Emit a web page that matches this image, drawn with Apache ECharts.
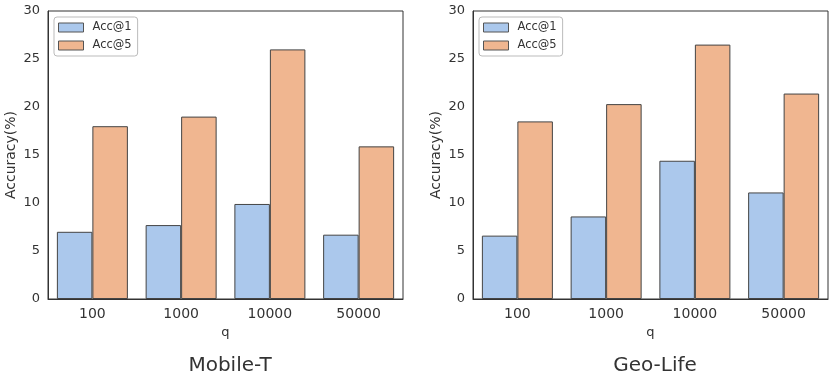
<!DOCTYPE html>
<html>
<head>
<meta charset="utf-8">
<script src="https://cdn.jsdelivr.net/npm/echarts@6/dist/echarts.min.js"></script>
<style>
  html, body { margin: 0; padding: 0; background: #fff; }
  #chart { width: 830px; height: 389px; }
</style>
</head>
<body>
<div id="chart"></div>
<script>
// categories (q) and accuracy values
const qValues = ["100", "1000", "10000", "50000"];
const mobileAcc1 = [7.0, 7.7, 9.9, 6.7];
const mobileAcc5 = [18.0, 19.0, 26.0, 15.9];
const geoAcc1 = [6.6, 8.6, 14.4, 11.1];
const geoAcc5 = [18.5, 20.3, 26.5, 21.4];
const yTicks = [0, 5, 10, 15, 20, 25, 30];
const panelTitles = ["Mobile-T", "Geo-Life"];

const font = "DejaVu Sans";
const blue = "#abc8ec";
const orange = "#f0b690";

let myChart = echarts.init(document.getElementById("chart"), null, { renderer: "canvas" });

// 每个子图的坐标轴
function makeX(idx) {
  return {
    type: "category",
    gridIndex: idx,
    data: qValues,
    name: "q",
    nameLocation: "middle",
    nameGap: 27,
    nameTextStyle: { fontFamily: font, fontSize: 13, color: "#333" },
    axisLine: { show: true, lineStyle: { color: "#333", width: 1 } },
    axisTick: { show: false },
    axisLabel: { fontFamily: font, fontSize: 14, color: "#333", margin: 8 },
    splitLine: { show: false },
  };
}
function makeY(idx) {
  return {
    type: "value",
    gridIndex: idx,
    min: yTicks[0],
    max: yTicks[yTicks.length - 1],
    interval: 5,
    name: "Accuracy(%)",
    nameLocation: "middle",
    nameGap: 30,
    nameTextStyle: { fontFamily: font, fontSize: 14, color: "#333" },
    axisLine: { show: true, lineStyle: { color: "#333", width: 1 } },
    axisTick: { show: false },
    axisLabel: { fontFamily: font, fontSize: 13, color: "#333", margin: 8 },
    splitLine: { show: false },
  };
}
function makeBar(name, data, color, idx) {
  return {
    type: "bar",
    name: name,
    data: data,
    xAxisIndex: idx,
    yAxisIndex: idx,
    barGap: "0%",
    barCategoryGap: "20%",
    itemStyle: { color: color, borderColor: "#444", borderWidth: 1 },
  };
}
function makeLegend(left) {
  return {
    data: ["Acc@1", "Acc@5"],
    orient: "vertical",
    left: left,
    top: 17,
    icon: "rect",
    itemWidth: 25,
    itemHeight: 9,
    itemGap: 5,
    padding: [4, 6, 4, 4],
    backgroundColor: "#fff",
    borderColor: "#bbb",
    borderWidth: 1,
    borderRadius: 3,
    itemStyle: { borderWidth: 1, borderColor: "#555" },
    textStyle: { fontFamily: font, fontSize: 11.5, color: "#333", lineHeight: 13, padding: [0, 0, 0, 4] },
  };
}

let option = {
  animation: false,
  backgroundColor: "#fff",
  title: [
    { text: panelTitles[0], left: 225, top: 351, textAlign: "center",
      textStyle: { fontFamily: font, fontSize: 20, fontWeight: "normal", color: "#333" } },
    { text: panelTitles[1], left: 650, top: 351, textAlign: "center",
      textStyle: { fontFamily: font, fontSize: 20, fontWeight: "normal", color: "#333" } },
  ],
  legend: [makeLegend(54), makeLegend(479)],
  grid: [
    { left: 48, top: 11, width: 355, height: 288, show: true, borderColor: "#333", borderWidth: 1 },
    { left: 473, top: 11, width: 355, height: 288, show: true, borderColor: "#333", borderWidth: 1 },
  ],
  xAxis: [makeX(0), makeX(1)],
  yAxis: [makeY(0), makeY(1)],
  series: [
    makeBar("Acc@1", mobileAcc1, blue, 0),
    makeBar("Acc@5", mobileAcc5, orange, 0),
    makeBar("Acc@1", geoAcc1, blue, 1),
    makeBar("Acc@5", geoAcc5, orange, 1),
  ],
};
myChart.setOption(option);
</script>
</body>
</html>
